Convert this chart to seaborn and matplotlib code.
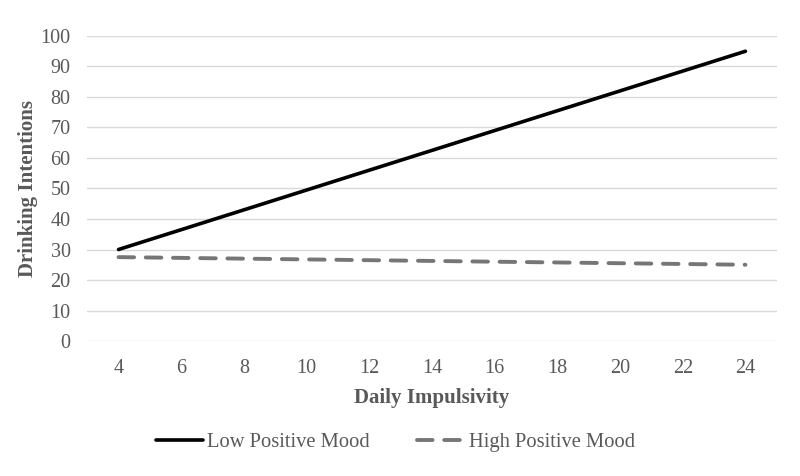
import matplotlib
matplotlib.use('agg')
import matplotlib.pyplot as plt
import pandas as pd
import seaborn as sns

sns.set_style('white')
plt.rcParams['font.family'] = ['Liberation Serif', 'DejaVu Serif']

# data
impulsivity = [4, 24]
low_mood = [30.0, 95.0]
high_mood = [27.5, 25.0]
x_ticks = [4, 6, 8, 10, 12, 14, 16, 18, 20, 22, 24]
y_ticks = [0, 10, 20, 30, 40, 50, 60, 70, 80, 90, 100]

df = pd.DataFrame({
    'Daily Impulsivity': impulsivity * 2,
    'Drinking Intentions': low_mood + high_mood,
    'group': ['Low Positive Mood'] * 2 + ['High Positive Mood'] * 2,
})

text_col = '#595959'

fig = plt.figure(figsize=(8, 4.76), dpi=100)
ax = fig.add_axes([0.109, 0.2836, 0.862, 0.6408])

sns.lineplot(data=df[df.group == 'Low Positive Mood'], x='Daily Impulsivity', y='Drinking Intentions',
             color='black', linewidth=2.6, label='Low Positive Mood', ax=ax)
sns.lineplot(data=df[df.group == 'High Positive Mood'], x='Daily Impulsivity', y='Drinking Intentions',
             color='#767676', linewidth=2.8, dashes=False, label='High Positive Mood', ax=ax)
ax.lines[1].set_dashes((4, 3))
ax.lines[1].set_dash_capstyle('round')

ax.set_xlim(3, 25)
ax.set_ylim(0, 100)
ax.set_xticks(x_ticks)
ax.set_yticks(y_ticks)
ax.yaxis.grid(True, color='#d9d9d9', linewidth=1)
ax.set_axisbelow(True)
for s in ax.spines.values():
    s.set_visible(False)
ax.tick_params(axis='both', length=0, labelsize=14.5, colors=text_col)
ax.tick_params(axis='x', pad=13)
ax.tick_params(axis='y', pad=12)

ax.set_xlabel('Daily Impulsivity', fontsize=15, fontweight='bold', color=text_col, labelpad=7)
ax.set_ylabel('Drinking Intentions', fontsize=15, fontweight='bold', color=text_col, labelpad=2)

handles, labels = ax.get_legend_handles_labels()
ax.get_legend().remove()
fig.legend(handles, labels, loc='center', bbox_to_anchor=(0.494, 0.071), ncol=2, frameon=False,
           fontsize=14.8, labelcolor=text_col, handlelength=2.3, handletextpad=0.2,
           columnspacing=2.3)

fig.savefig('out.png', dpi=100)
